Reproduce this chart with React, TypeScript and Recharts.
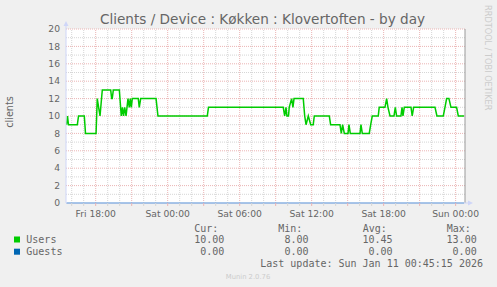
import React from 'react';
import { LineChart, Line, XAxis, YAxis, CartesianGrid, ReferenceLine } from 'recharts';

const TITLE = 'Clients / Device : Køkken : Klovertoften - by day';
const Y_LABEL = 'clients';
const WATERMARK = 'RRDTOOL / TOBI OETIKER';
const FOOTER = 'Munin 2.0.76';
const LAST_UPDATE = 'Last update: Sun Jan 11 00:45:15 2026';

// time axis: hours since Fri 00:00
const X_DOMAIN: [number, number] = [15.525, 48.78];

const userTimes = [
  15.57, 15.65, 15.73, 16.47, 16.57, 17.05, 17.15, 18.03, 18.13, 18.36,
  18.55, 19.25, 19.33, 19.38, 19.47, 19.97, 20.13, 20.23, 20.32, 20.42,
  20.53, 20.69, 20.8, 20.88, 20.97, 21.05, 21.55, 21.63, 21.75, 23.03,
  23.19, 27.3, 27.4, 33.63, 33.75, 33.86, 33.94, 34.07, 34.13, 34.33,
  34.44, 34.53, 35.3, 35.42, 35.53, 35.72, 35.92, 36.13, 36.22, 37.47,
  37.58, 38.36, 38.47, 38.58, 38.72, 39.03, 39.11, 39.22, 40.03, 40.11,
  40.22, 40.8, 40.92, 41.05, 41.55, 41.63, 42.11, 42.25, 42.36, 42.53,
  42.86, 42.97, 43.08, 43.44, 43.53, 43.61, 43.72, 44.28, 44.38, 44.5,
  46.28, 46.44, 46.97, 47.11, 47.25, 47.44, 47.61, 48.08, 48.22, 48.7,
];
const userValues = [
  9, 10, 9, 9, 10, 10, 8, 8, 12, 10,
  13, 13, 12, 12, 13, 13, 10, 11, 10, 11,
  10, 12, 11, 12, 11, 12, 12, 11, 12, 12,
  10, 10, 11, 11, 10, 11, 10, 10, 11, 12,
  11, 12, 12, 10, 9, 10, 9, 9, 10, 10,
  9, 9, 8, 9, 8, 8, 9, 8, 8, 9,
  8, 8, 9, 10, 10, 11, 11, 12, 11, 10,
  10, 11, 10, 10, 11, 10, 11, 11, 10, 11,
  11, 10, 10, 11, 12, 12, 11, 11, 10, 10,
];
const guestTimes = [15.57, 48.7];
const guestValues = [0, 0];

const yTicks = [0, 2, 4, 6, 8, 10, 12, 14, 16, 18, 20];
const yMajorLines = [2, 4, 6, 8, 10, 12, 14, 16, 18, 20];
const yMinorLines = [1, 3, 5, 7, 9, 11, 13, 15, 17, 19];
const hourTicks = [
  16, 17, 18, 19, 20, 21, 22, 23, 24, 25, 26, 27, 28, 29, 30, 31, 32,
  33, 34, 35, 36, 37, 38, 39, 40, 41, 42, 43, 44, 45, 46, 47, 48,
];
const xMajorLines = [18, 21, 24, 27, 30, 33, 36, 39, 42, 45, 48];
const xMinorLines = [16, 17, 19, 20, 22, 23, 25, 26, 28, 29, 31, 32, 34, 35, 37, 38, 40, 41, 43, 44, 46, 47];
const xLabelTicks = [18, 24, 30, 36, 42, 48];
const xLabels = ['Fri 18:00', 'Sat 00:00', 'Sat 06:00', 'Sat 12:00', 'Sat 18:00', 'Sun 00:00'];

const legendNames = ['Users', 'Guests'];
const legendColors = ['#00CC00', '#0066B3'];
const curValues = ['10.00', '0.00'];
const minValues = ['8.00', '0.00'];
const avgValues = ['10.45', '0.00'];
const maxValues = ['13.00', '0.00'];
const legendHeaders = ['Cur:', 'Min:', 'Avg:', 'Max:'];

const userData = userTimes.map((t, i) => ({ t, v: userValues[i] }));
const guestData = guestTimes.map((t, i) => ({ t, v: guestValues[i] }));

const RED = '#ebb4b4';
const GRAY = '#d6d6d6';
const FONT = '#666666';
const SANS = '"DejaVu Sans", sans-serif';
const MONO = '"DejaVu Sans Mono", monospace';
const AXIS = '#CFD6F8';

const HourTick = (props: any) => {
  const { x, y, payload } = props;
  const h = payload.value;
  const idx = xLabelTicks.indexOf(h);
  const major = xMajorLines.includes(h);
  return (
    <g>
      <line x1={x} x2={x} y1={y} y2={y + 3} stroke={major ? RED : GRAY} strokeWidth={1} />
      {idx >= 0 && (
        <text x={x} y={y + 13.5} textAnchor="middle" fontSize={9.2} fontFamily={SANS} fill={FONT}>
          {xLabels[idx]}
        </text>
      )}
    </g>
  );
};

const colHeaderX = [194.3, 278.3, 362.7, 446.7];
const colValueX = [224.3, 308.5, 392.5, 476.7];
const columns = [curValues, minValues, avgValues, maxValues];

export default function App() {
  return (
    <div style={{ position: 'relative', width: 497, height: 287, background: '#f0f0f0', overflow: 'hidden' }}>
      <style>{`body{margin:0;background:#f0f0f0}`}</style>
      <LineChart
        width={497}
        height={287}
        data={userData}
        margin={{ top: 29, right: 32, bottom: 64, left: 0 }}
      >
        <CartesianGrid fill="#ffffff" stroke="none" horizontal={false} vertical={false} />
        {yMinorLines.map((v) => (
          <ReferenceLine key={'ym' + v} y={v} stroke={GRAY} strokeDasharray="1 1" />
        ))}
        {xMinorLines.map((v) => (
          <ReferenceLine key={'xm' + v} x={v} stroke={GRAY} strokeDasharray="1 1" />
        ))}
        {yMajorLines.map((v) => (
          <ReferenceLine key={'yM' + v} y={v} stroke={RED} strokeDasharray="1 1" />
        ))}
        {xMajorLines.map((v) => (
          <ReferenceLine key={'xM' + v} x={v} stroke={RED} strokeDasharray="1 1" />
        ))}
        <ReferenceLine x={X_DOMAIN[1]} stroke="#9a9a9a" />
        <XAxis
          type="number"
          dataKey="t"
          domain={X_DOMAIN}
          allowDataOverflow
          ticks={hourTicks}
          interval={0}
          height={20}
          tickSize={0}
          tickMargin={0}
          tickLine={false}
          axisLine={{ stroke: AXIS }}
          tick={<HourTick />}
        />
        <YAxis
          type="number"
          domain={[0, 20]}
          ticks={yTicks}
          interval={0}
          width={66}
          tickSize={0}
          tickMargin={6}
          tickLine={false}
          axisLine={{ stroke: AXIS }}
          tick={{ fill: FONT, fontSize: 9.2, fontFamily: SANS }}
        />
        <Line
          data={guestData}
          dataKey="v"
          type="linear"
          stroke="#0066B3"
          strokeWidth={1}
          dot={false}
          isAnimationActive={false}
        />
        <Line
          dataKey="v"
          type="linear"
          stroke="#00CC00"
          strokeWidth={1.5}
          dot={false}
          isAnimationActive={false}
        />
      </LineChart>
      <svg
        width={497}
        height={287}
        style={{ position: 'absolute', left: 0, top: 0, pointerEvents: 'none' }}
      >
        <text x={262.5} y={24} textAnchor="middle" fontSize={13.6} fontFamily={SANS} fill={FONT}>
          {TITLE}
        </text>
        <text
          transform="translate(13,112) rotate(-90)"
          textAnchor="middle"
          fontSize={9.6}
          fontFamily={SANS}
          fill={FONT}
        >
          {Y_LABEL}
        </text>
        <text
          transform="translate(484.5,5) rotate(90)"
          fontSize={8.2}
          fontFamily={SANS}
          fill="#cccccc"
        >
          {WATERMARK}
        </text>
        <line x1={66} x2={66} y1={29} y2={24} stroke={AXIS} />
        <polygon points="63.5,26 68.5,26 66,21" fill={AXIS} />
        <line x1={465} x2={469} y1={203} y2={203} stroke={AXIS} />
        <polygon points="468,200.5 468,205.5 473,203" fill={AXIS} />
        {legendHeaders.map((h, i) => (
          <text key={h} x={colHeaderX[i]} y={231.5} fontSize={10} fontFamily={MONO} fill={FONT}>
            {h}
          </text>
        ))}
        {legendNames.map((n, r) => (
          <g key={n}>
            <rect x={14} y={236.5 + r * 12.2} width={6} height={6} fill={legendColors[r]} />
            <text x={26.3} y={243 + r * 12.2} fontSize={10} fontFamily={MONO} fill={FONT}>
              {n}
            </text>
            {columns.map((col, c) => (
              <text
                key={c}
                x={colValueX[c]}
                y={243 + r * 12.2}
                textAnchor="end"
                fontSize={10}
                fontFamily={MONO}
                fill={FONT}
              >
                {col[r]}
              </text>
            ))}
          </g>
        ))}
        <text x={483} y={267.3} textAnchor="end" fontSize={10} fontFamily={MONO} fill={FONT}>
          {LAST_UPDATE}
        </text>
        <text x={248} y={278.5} textAnchor="middle" fontSize={6.8} fontFamily={SANS} fill="#cccccc">
          {FOOTER}
        </text>
      </svg>
    </div>
  );
}
